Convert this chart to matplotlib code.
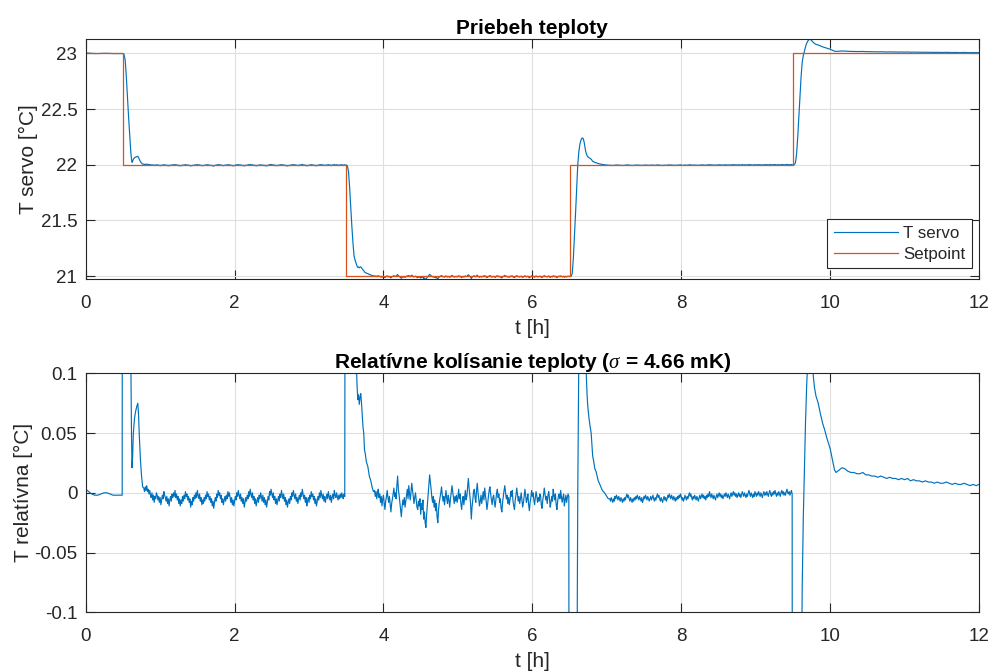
import numpy as np
import matplotlib
matplotlib.use("Agg")
import matplotlib.pyplot as plt
from matplotlib.ticker import FormatStrFormatter

plt.rcParams["font.family"] = ["Liberation Sans", "DejaVu Sans"]
plt.rcParams["axes.unicode_minus"] = False
plt.rcParams["mathtext.fontset"] = "custom"
plt.rcParams["mathtext.it"] = "Liberation Serif:italic"
plt.rcParams["mathtext.rm"] = "Liberation Sans"

# ---------------- data ----------------
# setpoint schedule [h] / [°C]
sp_times = [0.0, 0.5, 3.5, 6.5, 9.5, 12.0]
sp_values = [23.0, 22.0, 21.0, 22.0, 23.0, 23.0]

# steady segments: deviation from setpoint in mK, evenly sampled between start/end
segA_span = (0.0, 0.49)
segA_mK = [3, 1, -1, -2, -2, -1, 0, 0, -1, -2, -2, -2, -2]

segB_span = (0.78, 3.48)
segB_mK = [4, 1, 5, 2, 6, 1, 3, -1, 2, -2,
           -4, 0, -6, -2, -8, -3, -5, 0, -2, -6,
           -3, -8, -4, -10, -6, -2, -5, 1, -2, -4,
           -7, -3, -9, -5, -11, -6, -3, -7, -1, -4,
           0, -3, 2, -4, -1, -6, -3, -9, -5, -11,
           -6, -9, -3, -7, -2, -5, 1, -3, -1, -6,
           -3, -8, -5, -12, -7, -10, -4, -7, -2, -5,
           0, -4, 2, -2, -5, -1, -7, -4, -10, -6,
           -9, -4, -7, -2, -5, 1, -3, -1, -6, -3,
           -8, -5, -11, -7, -13, -8, -4, -7, -1, -4,
           2, -2, 0, -5, -2, -8, -5, -10, -6, -3,
           -7, -2, -5, 1, -3, 0, -4, -8, -4, -10,
           -6, -11, -7, -3, -6, 0, -3, 2, -2, -5,
           -1, -7, -4, -9, -5, -12, -8, -4, -7, -2,
           -5, 1, -3, 3, -1, -4, 0, -6, -3, -9,
           -5, -11, -7, -4, -8, -2, -5, 0, -3, -7,
           -2, -8, -4, -10, -6, -12, -8, -3, -6, 1,
           -2, 3, -1, -4, 0, -6, -3, -9, -5, -10,
           -6, -3, -7, -1, -4, 2, -2, -5, -1, -7,
           -4, -10, -6, -12, -8, -5, -9, -3, -6, 0,
           -3, 2, -2, -5, -1, -7, -4, -9, -5, -2,
           -6, 0, -3, 3, -1, -5, -2, -8, -4, -11,
           -7, -4, -8, -2, -5, 1, -3, -1, -6, -3,
           -9, -5, -11, -7, -3, -6, 0, -4, 2, -2,
           -5, -1, -7, -3, -8, -4, -1, -5, 1, -3,
           -6, -2, -8, -4, -1, -5, 2, -2, -4, 0,
           -3, -6, -2, -5, -1, -4, 0, -3, -5, -1,
           -3]

segC_span = (3.88, 6.49)
segC_mK = [2, -3, 1, -5, 0, 3, -4, -1, -8, -3,
           -11, -5, -2, -9, -14, -7, -3, 2, -4, -8,
           -3, -10, -16, -9, -5, -1, 4, -3, 0, -5,
           6, 14, 3, -2, -8, -14, -20, -12, -6, -10,
           -4, -12, -7, -2, 3, -5, 6, -1, -6, 1,
           8, 2, -3, -9, -4, 0, -6, -12, -14, -7,
           -11, -5, -18, -9, -14, -6, -22, -16, -25, -29,
           -18, -10, -2, 6, 15, 9, 3, -4, -8, -3,
           -12, -6, -15, -9, -20, -25, -14, -8, -4, 0,
           5, -2, -7, -3, -10, -4, 2, -5, -9, -2,
           -6, -12, -5, 0, 6, 1, -4, -9, -3, -7,
           -2, -8, -4, 3, -5, -1, -9, -14, -7, -3,
           -10, -4, 2, -6, -3, 5, 12, 4, -2, -9,
           -22, -12, -6, 1, 3, -4, -8, 2, 8, 0,
           -5, -11, -7, -2, -9, -4, 1, -6, 4, -2,
           -7, -14, -9, -3, 2, 5, -1, -6, -10, -4,
           -2, -8, -12, -6, 0, 3, -4, -1, -8, -5,
           -13, -16, -8, -3, 2, 6, 0, -5, -2, -9,
           -4, -10, -6, 1, -3, 2, -7, -11, -14, -6,
           -2, 4, -1, -7, -3, -9, -5, 0, -6, -12,
           -8, -3, 3, -2, -8, -5, -1, -10, -15, -8,
           -4, 2, -3, 0, -6, -10, -4, 1, -3, -8,
           -4, -7, -1, -2, -10, -13, -6, -2, 4, -1,
           -6, -3, -9, -2, 1, -5, -12, -8, -3, -7,
           3, -2, -6, -1, -10, -14, -7, -3, -1, -5,
           2, -3, -8, -4, -1, -11, -6, -2, -8, -4,
           -1, -3]

segD_span = (7.04, 9.49)
segD_mK = [-5, -7, -4, -6, -8, -5, -7, -3, -5, -2,
           -4, -6, -3, -5, -7, -4, -6, -8, -5, -7,
           -4, -6, -3, -1, -4, -2, -5, -7, -4, -6,
           -8, -5, -7, -4, -6, -3, -5, -2, -4, -6,
           -3, -5, -7, -4, -8, -6, -3, -5, -2, -4,
           -6, -3, -5, -7, -5, -3, -6, -4, -2, -5,
           -7, -4, -6, -3, -1, -4, -2, -5, -7, -4,
           -6, -8, -5, -3, -6, -4, -7, -5, -2, -4,
           -1, -3, -5, -2, -4, -6, -3, -5, -7, -4,
           -6, -3, -5, -2, -4, -1, -3, -6, -4, -7,
           -5, -2, -4, -6, -3, -5, -2, 0, -3, -1,
           -4, -6, -3, -5, -2, -4, -6, -3, -5, -7,
           -4, -2, -5, -3, -1, -4, -2, -5, -3, -6,
           -2, -4, -1, -3, 1, -2, -4, -1, -3, -5,
           -2, -4, -6, -3, -1, -4, -2, 0, -3, -1,
           -4, -2, -5, -3, -1, -3, 0, -2, -4, -1,
           -3, -5, -2, 0, -3, -1, 1, -2, 0, -3,
           -1, -4, -2, 0, -3, -1, -4, -2, 1, -1,
           -3, 0, -2, -4, -1, -3, 0, 2, -1, -3,
           0, -2, -4, -1, -3, 1, -1, -3, 0, -2,
           1, -1, -3, 0, -2, -4, -1, 1, -2, 0,
           -2, 1, -1, -3, 0, 2, -1, -3, 0, -2,
           1, -1, 2, -1, -3, 0, -2, 1, -1, -3,
           0, 2, -1, 1, -2, 0, -2, 1, 3, 0,
           -1, 1, -2, 0, 2, -1]

segE_span = (10.08, 12.0)
segE_mK = [17, 19, 21, 20, 18, 17, 17, 16, 16, 17,
           15, 15, 14, 14, 13, 14, 13, 12, 13, 12,
           12, 11, 12, 11, 12, 10, 11, 10, 10, 9,
           10, 9, 9, 8, 9, 8, 8, 9, 8, 7,
           8, 7, 7, 8, 7, 6, 7, 6, 7]

# transitions: absolute temperature samples
tr1_t = [0.50, 0.515, 0.53, 0.545, 0.56, 0.575, 0.59, 0.605, 0.615, 0.622,
         0.63, 0.64, 0.655, 0.67, 0.685, 0.70, 0.71, 0.72, 0.735, 0.75, 0.765]
tr1_T = [22.998, 22.99, 22.94, 22.80, 22.62, 22.44, 22.28, 22.12, 22.05, 22.021,
         22.03, 22.05, 22.062, 22.068, 22.072, 22.075, 22.065, 22.048, 22.028, 22.014, 22.005]

tr2_t = [3.50, 3.515, 3.53, 3.545, 3.56, 3.575, 3.59, 3.605, 3.62, 3.635,
         3.645, 3.655, 3.665, 3.675, 3.685, 3.695, 3.705, 3.715, 3.725, 3.735,
         3.745, 3.755, 3.77, 3.79, 3.81, 3.83, 3.85, 3.865]
tr2_T = [21.998, 21.99, 21.94, 21.80, 21.62, 21.45, 21.30, 21.18, 21.14, 21.11,
         21.09, 21.078, 21.082, 21.074, 21.080, 21.083, 21.075, 21.065, 21.055, 21.050,
         21.036, 21.033, 21.026, 21.022, 21.014, 21.010, 21.004, 21.001]

tr3_t = [6.50, 6.52, 6.535, 6.55, 6.565, 6.58, 6.595, 6.61, 6.625, 6.64,
         6.655, 6.665, 6.675, 6.685, 6.695, 6.705, 6.715, 6.725, 6.735, 6.745,
         6.76, 6.775, 6.79, 6.80, 6.81, 6.825, 6.84, 6.855, 6.87, 6.885,
         6.90, 6.92, 6.94, 6.97, 7.00, 7.02]
tr3_T = [20.996, 20.998, 21.02, 21.15, 21.35, 21.56, 21.78, 22.0, 22.12, 22.19,
         22.225, 22.238, 22.24, 22.232, 22.205, 22.165, 22.125, 22.098, 22.082, 22.072,
         22.063, 22.056, 22.050, 22.040, 22.031, 22.026, 22.020, 22.018, 22.014, 22.010,
         22.008, 22.005, 22.002, 22.000, 21.997, 21.995]

tr4_t = [9.50, 9.52, 9.535, 9.55, 9.565, 9.58, 9.595, 9.61, 9.625, 9.64,
         9.655, 9.67, 9.685, 9.70, 9.715, 9.73, 9.745, 9.76, 9.775, 9.79,
         9.81, 9.84, 9.87, 9.90, 9.93, 9.96, 10.0, 10.03, 10.06]
tr4_T = [21.998, 22.0, 22.02, 22.10, 22.25, 22.43, 22.62, 22.79, 22.92, 22.98,
         23.02, 23.06, 23.09, 23.11, 23.122, 23.126, 23.12, 23.108, 23.097, 23.088,
         23.081, 23.075, 23.066, 23.058, 23.052, 23.045, 23.037, 23.028, 23.019]

sigma_mK = 4.66

# ---------------- assemble ----------------
def setpoint(t):
    idx = np.searchsorted(sp_times[1:-1], t, side="right")
    return np.asarray(sp_values)[idx]

def steady(span, vals):
    t = np.linspace(span[0], span[1], len(vals))
    return t, setpoint(t) + np.asarray(vals) / 1000.0

parts = [steady(segA_span, segA_mK), (np.array(tr1_t), np.array(tr1_T)),
         steady(segB_span, segB_mK), (np.array(tr2_t), np.array(tr2_T)),
         steady(segC_span, segC_mK), (np.array(tr3_t), np.array(tr3_T)),
         steady(segD_span, segD_mK), (np.array(tr4_t), np.array(tr4_T)),
         steady(segE_span, segE_mK)]
t_all = np.concatenate([p[0] for p in parts])
T_all = np.concatenate([p[1] for p in parts])
rel = T_all - setpoint(t_all)

# ---------------- plot ----------------
BLUE = "#0072BD"
ORANGE = "#D95319"
AXC = "#262626"

fig = plt.figure(figsize=(9.91, 6.71), dpi=100)
ax1 = fig.add_axes([0.08648, 0.58376, 0.90141, 0.35768])
ax2 = fig.add_axes([0.08648, 0.08748, 0.90141, 0.35618])

ax1.plot(t_all, T_all, color=BLUE, lw=0.85, label="T servo")
ax1.step(sp_times, sp_values, where="post", color=ORANGE, lw=0.9, label="Setpoint")
ax1.set_ylim(T_all.min(), T_all.max())
ax1.set_yticks([21, 21.5, 22, 22.5, 23])

ax2.plot(t_all, rel, color=BLUE, lw=0.85)
ax2.set_ylim(-0.1, 0.1)
ax2.set_yticks([-0.1, -0.05, 0, 0.05, 0.1])

for ax in (ax1, ax2):
    ax.set_xlim(0, 12)
    ax.set_xticks([0, 2, 4, 6, 8, 10, 12])
    ax.xaxis.set_major_formatter(FormatStrFormatter("%g"))
    ax.yaxis.set_major_formatter(FormatStrFormatter("%g"))
    ax.grid(True, color="#dfdfdf", lw=0.8)
    ax.set_axisbelow(True)
    for s in ax.spines.values():
        s.set_color(AXC)
        s.set_linewidth(0.8)
    ax.tick_params(direction="in", length=6.5, width=0.8, color=AXC,
                   labelcolor=AXC, labelsize=13.5, top=True, right=True)
    ax.tick_params(axis="x", pad=11)
    ax.tick_params(axis="y", pad=6)
    ax.set_xlabel("t [h]", fontsize=15, color=AXC)
    ax.xaxis.set_label_coords(0.5, -0.165)

ax1.set_ylabel("T servo [°C]", fontsize=15, color=AXC)
ax1.yaxis.set_label_coords(-0.053, 0.5)
ax2.set_ylabel("T relatívna [°C]", fontsize=15, color=AXC)
ax2.yaxis.set_label_coords(-0.059, 0.5)

ax1.set_title("Priebeh teploty", fontsize=15, fontweight="bold", pad=4)
ax2.set_title(r"Relatívne kolísanie teploty ($\sigma$ = %.2f mK)" % sigma_mK,
              fontsize=15, fontweight="bold", pad=4)

leg = ax1.legend(loc="lower right", bbox_to_anchor=(0.9918, 0.0458), borderaxespad=0,
                 fontsize=12.2, handlelength=3.8, handletextpad=0.3, labelspacing=0.35,
                 borderpad=0.38, fancybox=False, framealpha=1)
leg.get_frame().set_edgecolor(AXC)
leg.get_frame().set_linewidth(0.8)
for txt in leg.get_texts():
    txt.set_color(AXC)

fig.savefig("out.png", dpi=100)
